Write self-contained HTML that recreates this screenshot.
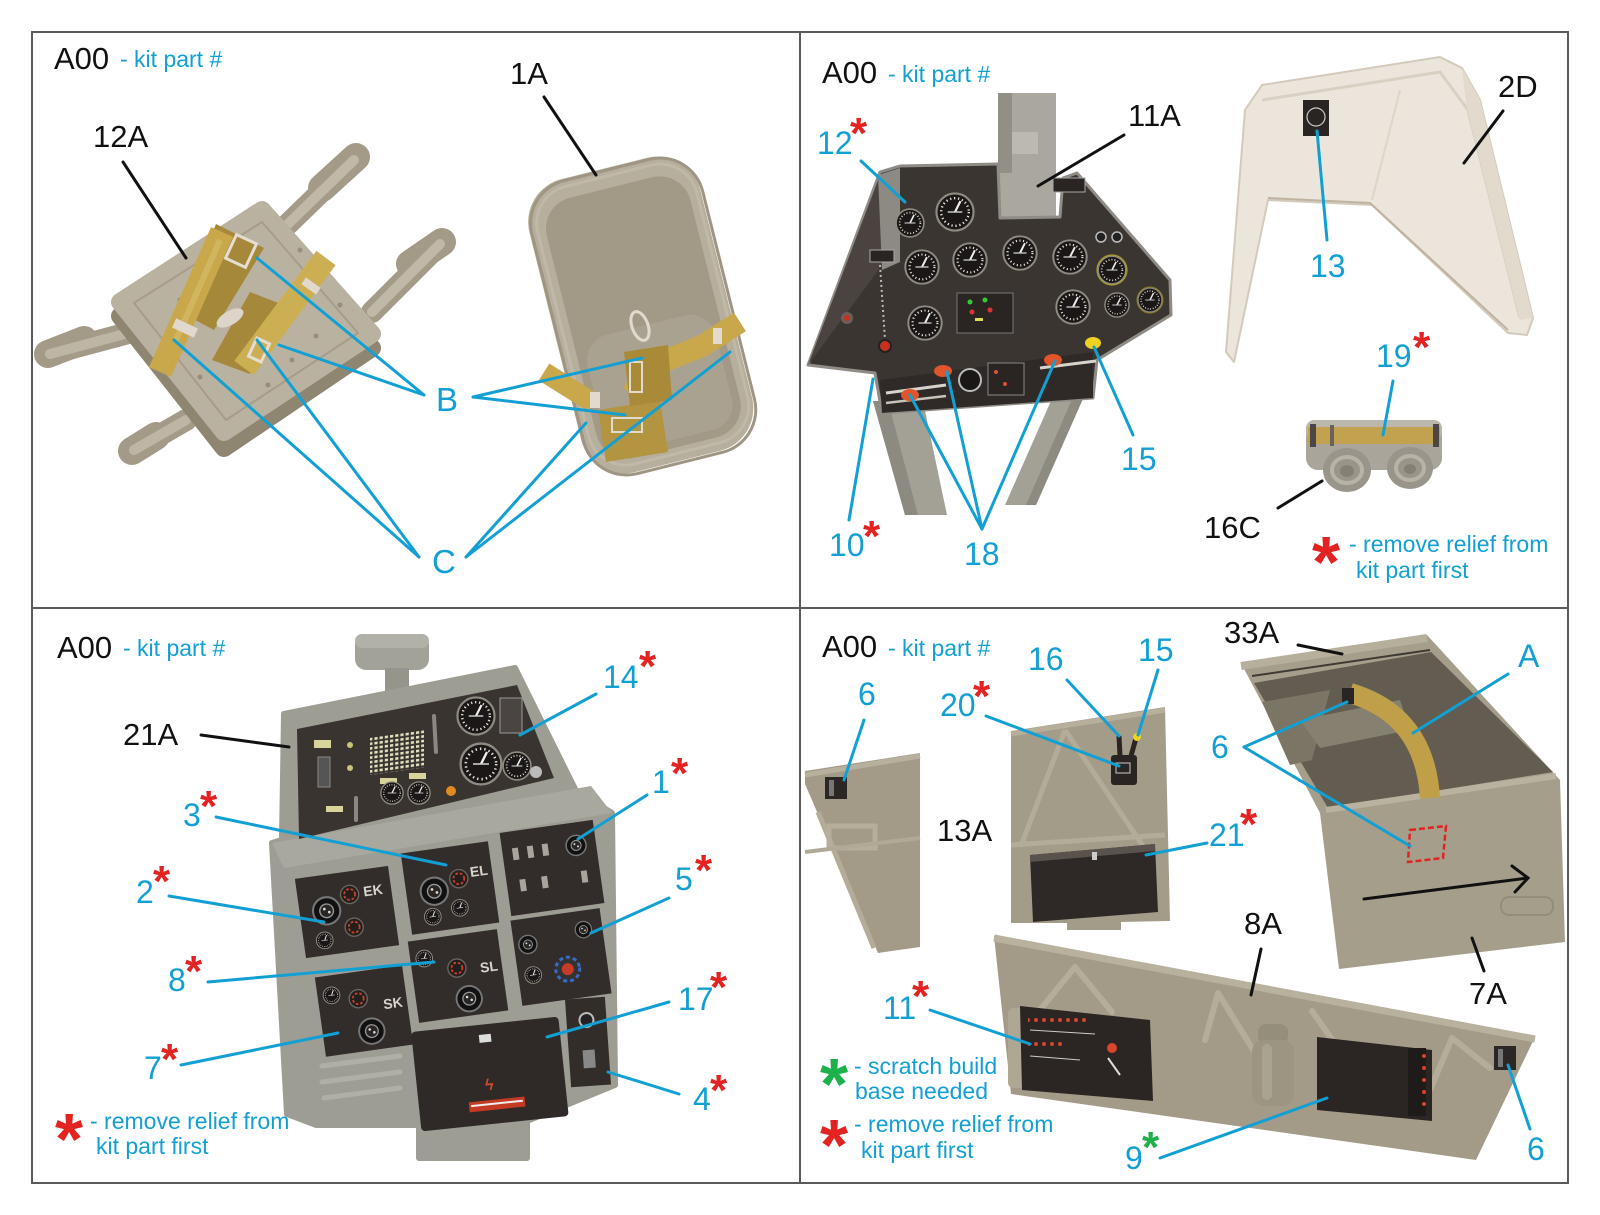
<!DOCTYPE html>
<html><head><meta charset="utf-8"><style>
html,body{margin:0;padding:0;background:#fff;}
svg{display:block;}
text{font-family:"Liberation Sans",Arial,sans-serif;}
.k{fill:#111;font-size:31px}
.b{fill:#12a0d4;font-size:32px}
.r{fill:#e32222;font-size:44px;font-weight:bold}
.g{fill:#1db14a;font-size:44px;font-weight:bold}
.rl{fill:#e32222;font-size:72px;font-weight:bold}
.gl{fill:#1db14a;font-size:72px;font-weight:bold}
.t{fill:#12a0d4;font-size:23px}
.bl{stroke:#12a0d4;stroke-width:3;fill:none;stroke-linecap:round}
.kl{stroke:#111;stroke-width:3;fill:none;stroke-linecap:round}
</style></head><body>
<svg width="1600" height="1215" viewBox="0 0 1600 1215" xmlns="http://www.w3.org/2000/svg">
<defs>
<symbol id="ga" viewBox="-11 -11 22 22">
<circle r="10.2" fill="#1a1716" stroke="#8f8a82" stroke-width="1.2"/>
<circle r="7.6" fill="none" stroke="#e4e0d8" stroke-width="1.3" stroke-dasharray="0.7 1.5"/>
<line x1="0" y1="0" x2="3" y2="-6" stroke="#eee" stroke-width="1.2"/>
<line x1="-4" y1="0" x2="4" y2="0" stroke="#ccc" stroke-width="0.8"/>
</symbol>
<symbol id="kn" viewBox="-11 -11 22 22">
<circle r="10" fill="#111" stroke="#777" stroke-width="1.5"/>
<circle r="5" fill="#2a2624" stroke="#999" stroke-width="1"/>
<circle cx="-1.5" cy="-1.5" r="1" fill="#ddd"/><circle cx="1.8" cy="1.2" r="1" fill="#ddd"/>
</symbol>
<symbol id="sg" viewBox="-11 -11 22 22">
<circle r="10" fill="#241f1d" stroke="#6c6660" stroke-width="1.5"/>
<circle r="6" fill="none" stroke="#c94030" stroke-width="2" stroke-dasharray="3 2"/>
</symbol>
<pattern id="led" width="5.2" height="4.6" patternUnits="userSpaceOnUse"><rect width="3.2" height="2.6" fill="#e4dfbd"/></pattern>
<pattern id="rdots" width="8" height="8" patternUnits="userSpaceOnUse"><circle cx="4" cy="4" r="2" fill="#d8452c"/></pattern>
</defs>

<rect width="1600" height="1215" fill="#fff"/>

<!-- ========== TOP LEFT ========== -->
<g stroke-linecap="round">
<line x1="288" y1="224" x2="354" y2="160" stroke="#a39b87" stroke-width="22"/>
<line x1="322" y1="188" x2="356" y2="157" stroke="#a39b87" stroke-width="28"/>
<line x1="288" y1="224" x2="354" y2="160" stroke="#c0b9a7" stroke-width="10"/>
<line x1="372" y1="312" x2="440" y2="244" stroke="#a39b87" stroke-width="22"/>
<line x1="410" y1="264" x2="442" y2="242" stroke="#a39b87" stroke-width="28"/>
<line x1="372" y1="312" x2="440" y2="244" stroke="#c0b9a7" stroke-width="10"/>
<line x1="132" y1="332" x2="50" y2="354" stroke="#a39b87" stroke-width="22"/>
<line x1="84" y1="340" x2="48" y2="354" stroke="#a39b87" stroke-width="28"/>
<line x1="132" y1="332" x2="50" y2="354" stroke="#bdb6a4" stroke-width="10"/>
<line x1="186" y1="420" x2="134" y2="450" stroke="#a39b87" stroke-width="22"/>
<line x1="156" y1="436" x2="132" y2="451" stroke="#a39b87" stroke-width="28"/>
<line x1="186" y1="420" x2="134" y2="450" stroke="#bdb6a4" stroke-width="10"/>
</g>
<polygon points="120,316 262,222 372,348 224,448" fill="#8f8672" stroke="#8f8672" stroke-width="18" stroke-linejoin="round"/>
<polygon points="120,302 262,210 372,334 224,432" fill="#bab2a0" stroke="#bab2a0" stroke-width="18" stroke-linejoin="round"/>
<polygon points="134,303 262,222 358,333 226,420" fill="none" stroke="#a69d89" stroke-width="2" stroke-linejoin="round"/>
<g fill="#978e7b">
<circle cx="180" cy="300" r="2.5"/><circle cx="200" cy="282" r="2.5"/><circle cx="300" cy="250" r="2.5"/><circle cx="316" cy="336" r="2.5"/><circle cx="292" cy="360" r="2.5"/><circle cx="268" cy="385" r="2.5"/><circle cx="200" cy="377" r="2.5"/><circle cx="340" cy="305" r="2.5"/>
</g>
<polygon points="216,224 264,248 214,330 180,312" fill="#a6883a"/>
<line x1="222" y1="232" x2="160" y2="372" stroke="#c9a84c" stroke-width="24"/>
<line x1="220" y1="240" x2="176" y2="340" stroke="#d8bf6c" stroke-width="6" opacity="0.6"/>
<polygon points="250,292 286,306 250,374 212,360" fill="#a6883a"/>
<line x1="326" y1="258" x2="244" y2="368" stroke="#ccae53" stroke-width="24"/>
<ellipse cx="230" cy="318" rx="15" ry="7" fill="#dcd5ca" transform="rotate(-30 230 318)"/>
<rect x="230" y="238" width="22" height="26" fill="none" stroke="#e3ddd2" stroke-width="3" transform="rotate(25 241 251)"/>
<rect x="173" y="323" width="24" height="10" fill="#e0d9cd" transform="rotate(25 185 328)"/>
<rect x="252" y="340" width="14" height="20" fill="none" stroke="#e3ddd2" stroke-width="3" transform="rotate(25 259 350)"/>
<rect x="302" y="282" width="18" height="8" fill="#e0d9cd" transform="rotate(35 311 286)"/>

<g transform="translate(641,316) rotate(-14)">
<rect x="-88" y="-152" width="176" height="302" rx="44" fill="#b6af9d"/>
<rect x="-86" y="-150" width="176" height="302" rx="44" fill="none" stroke="#9e9683" stroke-width="3"/>
<rect x="-80" y="-144" width="164" height="286" rx="38" fill="none" stroke="#c0b9a8" stroke-width="3"/>
<rect x="-72" y="-132" width="148" height="268" rx="32" fill="#a29a87"/>
<rect x="-64" y="10" width="132" height="118" rx="26" fill="#aaa290"/>
</g>
<polyline points="740,322 702,346 652,366 632,394" stroke="#c9a84c" stroke-width="22" fill="none" stroke-linejoin="round"/>
<line x1="544" y1="372" x2="592" y2="402" stroke="#c9a84c" stroke-width="20"/>
<polygon points="598,410 660,400 668,452 606,462" fill="#b39440"/>
<polygon points="624,352 668,345 672,400 630,406" fill="#a88a38"/>
<rect x="630" y="362" width="12" height="30" fill="none" stroke="#e0dacf" stroke-width="2"/>
<ellipse cx="640" cy="326" rx="8" ry="15" fill="none" stroke="#e0dacf" stroke-width="3" transform="rotate(-20 640 326)"/>
<rect x="612" y="418" width="30" height="14" fill="none" stroke="#e0dacf" stroke-width="2"/>
<rect x="590" y="392" width="10" height="16" fill="#e0dacf"/>
<rect x="713" y="328" width="9" height="16" fill="#e0dacf"/>

<!-- ========== TOP RIGHT ========== -->
<polygon points="873,401 923,401 947,515 905,515" fill="#a3a096"/>
<polygon points="873,401 888,401 918,515 905,515" fill="#8d8a81"/>
<polygon points="1066,367 1097,367 1036,505 1005,505" fill="#a3a096"/>
<polygon points="1086,367 1097,367 1036,505 1026,505" fill="#8d8a81"/>
<rect x="998" y="93" width="58" height="127" fill="#aaa79e"/>
<rect x="998" y="93" width="14" height="80" fill="#928f87"/>
<rect x="1012" y="132" width="26" height="22" fill="#bcb9b0"/>
<polygon points="880,172 900,166 998,164 1000,218 1060,217 1063,178 1077,173 1170,280 1171,315 1097,360 1093,398 882,413 875,373 808,365" fill="#3b3532" stroke="#8f8b85" stroke-width="3" stroke-linejoin="round"/>
<polygon points="808,365 880,175 900,170 880,268" fill="#4a4340"/>
<polygon points="878,175 900,168 900,262 882,270" fill="#8d8a84"/>
<use href="#ga" x="895" y="208" width="30" height="30"/>
<use href="#ga" x="935" y="192" width="40" height="40"/>
<use href="#ga" x="904" y="249" width="36" height="36"/>
<use href="#ga" x="952" y="242" width="36" height="36"/>
<use href="#ga" x="1002" y="235" width="36" height="36"/>
<use href="#ga" x="1052" y="239" width="36" height="36"/>
<use href="#ga" x="1097" y="255" width="30" height="30"/>
<circle cx="1112" cy="270" r="15" fill="none" stroke="#a79a2a" stroke-width="1.2"/>
<use href="#ga" x="907" y="305" width="36" height="36"/>
<use href="#ga" x="1055" y="289" width="36" height="36"/>
<use href="#ga" x="1104" y="292" width="26" height="26"/>
<use href="#ga" x="1137" y="287" width="26" height="26"/>
<circle cx="1150" cy="300" r="13" fill="none" stroke="#8a7a22" stroke-width="1"/>
<rect x="957" y="293" width="56" height="40" fill="#2a2523" stroke="#777" stroke-width="1"/>
<circle cx="970" cy="302" r="2.5" fill="#3c3"/><circle cx="985" cy="300" r="2.5" fill="#3c3"/><circle cx="972" cy="312" r="2.5" fill="#d33"/><circle cx="990" cy="310" r="2.5" fill="#d33"/>
<rect x="975" y="318" width="8" height="3" fill="#dd5"/>
<rect x="1053" y="178" width="32" height="14" fill="#2a2523" stroke="#aaa" stroke-width="1"/>
<circle cx="1101" cy="237" r="5" fill="#222" stroke="#bbb" stroke-width="1.5"/><circle cx="1117" cy="237" r="5" fill="#222" stroke="#bbb" stroke-width="1.5"/>
<rect x="870" y="250" width="24" height="12" fill="#2a2523" stroke="#aaa" stroke-width="1"/>
<line x1="880" y1="265" x2="885" y2="340" stroke="#bbb" stroke-width="2" stroke-dasharray="2 3"/>
<circle cx="885" cy="346" r="6" fill="#c83020" stroke="#222" stroke-width="2"/>
<circle cx="847" cy="318" r="6" fill="#6a5f5a"/><circle cx="847" cy="318" r="3" fill="#c83020"/>
<polygon points="880,380 1093,352 1093,398 882,413" fill="#2f2a27"/>
<line x1="886" y1="393" x2="946" y2="385" stroke="#d8d4cc" stroke-width="3"/>
<line x1="886" y1="403" x2="946" y2="396" stroke="#c8c4bc" stroke-width="2.5"/>
<line x1="1040" y1="368" x2="1096" y2="361" stroke="#d8d4cc" stroke-width="3"/>
<circle cx="970" cy="380" r="11" fill="#1a1716" stroke="#bbb" stroke-width="2"/>
<rect x="988" y="363" width="36" height="32" fill="#2a2523" stroke="#888" stroke-width="1"/>
<circle cx="996" cy="372" r="2" fill="#e05030"/><circle cx="1005" cy="384" r="2" fill="#e05030"/>
<ellipse cx="910" cy="395" rx="9" ry="6" fill="#e0552a"/>
<ellipse cx="943" cy="371" rx="9" ry="6" fill="#e0552a"/>
<ellipse cx="1053" cy="360" rx="9" ry="6" fill="#e0552a"/>
<ellipse cx="1093" cy="343" rx="8" ry="6" fill="#f0d020"/>

<polygon points="1245,110 1262,85 1440,57 1462,68 1480,100 1533,318 1527,335 1508,333 1372,205 1268,200 1234,362 1226,352" fill="#ebe5db" stroke="#d3cabb" stroke-width="2" stroke-linejoin="round"/>
<polyline points="1262,100 1440,72 1468,110 1520,318" fill="none" stroke="#d8d0c2" stroke-width="3"/>
<polyline points="1268,198 1370,203 1508,330" fill="none" stroke="#bfb3a0" stroke-width="2"/>
<line x1="1400" y1="90" x2="1372" y2="200" stroke="#ddd5c8" stroke-width="2"/>
<polygon points="1462,68 1480,100 1533,318 1520,320 1466,104" fill="#e2dacd"/>
<rect x="1303" y="100" width="26" height="36" fill="#2a2522"/>
<circle cx="1316" cy="117" r="9" fill="none" stroke="#ccc" stroke-width="1.2"/>

<rect x="1306" y="420" width="136" height="50" rx="12" fill="#aaa59a"/>
<rect x="1306" y="420" width="136" height="20" rx="8" fill="#bcb7ac"/>
<ellipse cx="1347" cy="470" rx="24" ry="22" fill="#9a958a"/>
<ellipse cx="1347" cy="470" rx="15" ry="13" fill="none" stroke="#b8b3a7" stroke-width="4"/>
<ellipse cx="1347" cy="471" rx="7" ry="6" fill="#858074"/>
<ellipse cx="1410" cy="468" rx="23" ry="21" fill="#9a958a"/>
<ellipse cx="1410" cy="468" rx="14" ry="12" fill="none" stroke="#b8b3a7" stroke-width="4"/>
<ellipse cx="1410" cy="469" rx="6" ry="5" fill="#858074"/>
<rect x="1308" y="427" width="132" height="17" fill="#c2a24e"/>
<rect x="1310" y="424" width="6" height="23" fill="#4d4744"/>
<rect x="1433" y="424" width="6" height="23" fill="#4d4744"/>
<rect x="1330" y="425" width="4" height="21" fill="#6b6259"/>

<!-- ========== BOTTOM LEFT ========== -->
<rect x="355" y="634" width="74" height="36" rx="11" fill="#a3a298"/>
<rect x="355" y="634" width="74" height="14" rx="7" fill="#b2b1a7"/>
<rect x="385" y="668" width="24" height="30" fill="#96958b"/>
<polygon points="284,714 515,668 576,791 612,813 615,1085 527,1121 527,1158 419,1158 419,1125 316,1125 287,1114 272,843 282,840" fill="#9e9d94" stroke="#9e9d94" stroke-width="6" stroke-linejoin="round"/>
<polygon points="272,843 591,786 612,813 284,868" fill="#a9a89f"/>
<polygon points="297,729 517,685 554,778 299,839" fill="#3a3431"/>
<rect x="370" y="735" width="54" height="38" fill="url(#led)" transform="skewY(-8) translate(0,54)"/>
<rect x="314" y="740" width="17" height="8" fill="#d9d49a"/>
<rect x="326" y="806" width="17" height="6" fill="#d9d49a"/>
<rect x="380" y="778" width="17" height="6" fill="#d9d49a"/>
<rect x="409" y="773" width="17" height="6" fill="#d9d49a"/>
<circle cx="350" cy="745" r="3" fill="#c9c477"/><circle cx="350" cy="768" r="3" fill="#c9c477"/>
<rect x="318" y="757" width="12" height="30" fill="#555" stroke="#888" stroke-width="1"/>
<line x1="434" y1="716" x2="436" y2="752" stroke="#8c8780" stroke-width="4" stroke-linecap="round"/>
<line x1="356" y1="798" x2="356" y2="820" stroke="#8c8780" stroke-width="4" stroke-linecap="round"/>
<use href="#ga" x="456" y="696" width="40" height="40"/>
<use href="#ga" x="459" y="742" width="44" height="44"/>
<use href="#ga" x="502" y="751" width="30" height="30"/>
<rect x="500" y="698" width="22" height="35" fill="#4b4542" stroke="#999" stroke-width="1"/>
<use href="#ga" x="380" y="781" width="24" height="24"/>
<use href="#ga" x="407" y="781" width="24" height="24"/>
<circle cx="451" cy="791" r="5" fill="#e08a20"/>
<circle cx="536" cy="772" r="6" fill="#bbb"/>
<g transform="rotate(-8 347 912)"><rect x="300" y="872" width="94" height="80" fill="#322c2a"/><use href="#kn" x="312" y="893" width="30" height="30"/><use href="#sg" x="342" y="885" width="20" height="20"/><use href="#sg" x="342" y="918" width="20" height="20"/><use href="#ga" x="312" y="928" width="18" height="18"/><text x="366" y="899" font-size="14" font-weight="bold" fill="#d8d4cc">EK</text></g>
<g transform="rotate(-8 450 888)"><rect x="406" y="847" width="88" height="82" fill="#322c2a"/><use href="#kn" x="419" y="874" width="30" height="30"/><use href="#sg" x="450" y="870" width="20" height="20"/><use href="#ga" x="420" y="905" width="18" height="18"/><use href="#ga" x="448" y="900" width="18" height="18"/><text x="472" y="880" font-size="14" font-weight="bold" fill="#d8d4cc">EL</text></g>
<g transform="rotate(-8 552 868)"><rect x="505" y="826" width="94" height="84" fill="#322c2a"/><g fill="#a9a49c"><rect x="515" y="843" width="6" height="12"/><rect x="530" y="843" width="6" height="12"/><rect x="545" y="843" width="6" height="12"/><rect x="518" y="875" width="6" height="12"/><rect x="540" y="875" width="6" height="12"/><rect x="580" y="875" width="6" height="12"/></g><use href="#kn" x="568" y="838" width="22" height="22"/></g>
<g transform="rotate(-8 364 1011)"><rect x="320" y="971" width="88" height="80" fill="#322c2a"/><use href="#kn" x="355" y="1018" width="28" height="28"/><use href="#sg" x="350" y="988" width="20" height="20"/><use href="#ga" x="325" y="982" width="18" height="18"/><text x="384" y="1012" font-size="14" font-weight="bold" fill="#d8d4cc">SK</text></g>
<g transform="rotate(-8 458 976)"><rect x="413" y="935" width="90" height="82" fill="#322c2a"/><use href="#kn" x="452" y="986" width="28" height="28"/><use href="#sg" x="448" y="958" width="20" height="20"/><use href="#ga" x="418" y="945" width="18" height="18"/><text x="481" y="976" font-size="14" font-weight="bold" fill="#d8d4cc">SL</text></g>
<g transform="rotate(-8 561 957)"><rect x="516" y="914" width="90" height="86" fill="#322c2a"/><use href="#kn" x="520" y="930" width="20" height="20"/><use href="#kn" x="578" y="924" width="18" height="18"/><circle cx="566" cy="970" r="12" fill="#333" stroke="#3a6ac8" stroke-width="3" stroke-dasharray="4 3"/><circle cx="566" cy="970" r="6" fill="#c83a2a"/><use href="#ga" x="522" y="962" width="18" height="18"/></g>
<g transform="rotate(-6 490 1075)"><rect x="416" y="1024" width="148" height="100" rx="4" fill="#2f2a28"/><rect x="483" y="1034" width="12" height="8" fill="#ddd"/><text x="484" y="1090" font-size="16" font-weight="bold" fill="#d24a2a">ϟ</text><rect x="466" y="1100" width="56" height="10" fill="#c43a22"/><rect x="468" y="1103" width="52" height="2" fill="#eee"/></g>
<g transform="rotate(-4 588 1042)"><rect x="568" y="998" width="40" height="88" fill="#332d2a"/><circle cx="588" cy="1020" r="7" fill="#222" stroke="#bbb" stroke-width="2"/><rect x="582" y="1050" width="12" height="18" fill="#888"/></g>
<g fill="none" stroke="#b0afa6" stroke-width="5" stroke-linecap="round">
<line x1="322" y1="1066" x2="400" y2="1056"/><line x1="322" y1="1082" x2="400" y2="1072"/><line x1="324" y1="1098" x2="400" y2="1088"/>
</g>

<!-- ========== BOTTOM RIGHT ========== -->
<polygon points="805,771 920,753 920,947 878,953 805,784" fill="#a39b88"/>
<line x1="805" y1="775" x2="920" y2="756" stroke="#b7b09d" stroke-width="5"/>
<line x1="818" y1="812" x2="874" y2="948" stroke="#b3ac99" stroke-width="5"/>
<rect x="829" y="826" width="46" height="22" fill="none" stroke="#b5ae9b" stroke-width="5"/>
<line x1="805" y1="852" x2="920" y2="838" stroke="#b0a996" stroke-width="4"/>
<rect x="825" y="777" width="22" height="22" fill="#2c2624"/><rect x="829" y="780" width="5" height="16" fill="#777"/>
<polygon points="1011,731 1165,707 1170,921 1121,922 1121,930 1067,930 1067,923 1011,923" fill="#a39c89"/>
<line x1="1011" y1="734" x2="1165" y2="710" stroke="#b6af9c" stroke-width="5"/>
<line x1="1065" y1="730" x2="1021" y2="846" stroke="#b3ac99" stroke-width="5"/>
<line x1="1065" y1="730" x2="1143" y2="846" stroke="#b3ac99" stroke-width="5"/>
<line x1="1011" y1="845" x2="1165" y2="835" stroke="#b3ac99" stroke-width="5"/>
<polygon points="1030,855 1155,844 1158,912 1033,922" fill="#2e2926"/>
<polygon points="1030,855 1155,844 1155,851 1030,862" fill="#5a524c"/>
<rect x="1092" y="852" width="5" height="8" fill="#ccc"/>
<rect x="1111" y="755" width="26" height="30" rx="3" fill="#2a2523"/>
<rect x="1116" y="763" width="14" height="10" fill="none" stroke="#ccc" stroke-width="1"/>
<line x1="1119" y1="736" x2="1120" y2="756" stroke="#2a2523" stroke-width="5"/>
<line x1="1136" y1="738" x2="1131" y2="756" stroke="#2a2523" stroke-width="5"/>
<circle cx="1137" cy="737" r="4" fill="#f0d020"/>
<polygon points="1241,663 1427,635 1560,780 1565,942 1339,969 1320,813" fill="#a59e8b"/>
<polygon points="1254,683 1431,652 1553,772 1328,808" fill="#625d50"/>
<polygon points="1262,702 1330,690 1312,760 1290,765" fill="#7b7566"/>
<polygon points="1300,720 1400,700 1410,730 1320,748" fill="#85806f"/>
<line x1="1241" y1="666" x2="1427" y2="638" stroke="#b6af9c" stroke-width="8"/>
<line x1="1252" y1="676" x2="1430" y2="650" stroke="#3f3b34" stroke-width="2"/>
<line x1="1326" y1="810" x2="1556" y2="776" stroke="#b9b29f" stroke-width="6"/>
<path d="M1350,693 Q1425,715 1430,798" fill="none" stroke="#bfa048" stroke-width="20"/>
<rect x="1342" y="688" width="12" height="16" fill="#2a2523"/>
<rect x="1501" y="897" width="52" height="18" rx="8" fill="none" stroke="#948d7a" stroke-width="2"/>
<polygon points="1410,830 1446,826 1443,858 1408,862" fill="none" stroke="#e32222" stroke-width="2.5" stroke-dasharray="6 3"/>
<polygon points="994,936 1535,1037 1476,1160 1011,1094" fill="#a39b87"/>
<line x1="994" y1="938" x2="1535" y2="1039" stroke="#b8b19e" stroke-width="7"/>
<g stroke="#b4ad9a" stroke-width="6" stroke-linecap="round">
<line x1="1075" y1="967" x2="1040" y2="1010"/><line x1="1075" y1="967" x2="1112" y2="1012"/>
<line x1="1218" y1="993" x2="1275" y2="1085"/><line x1="1218" y1="993" x2="1205" y2="1040"/>
<line x1="1312" y1="1011" x2="1338" y2="1048"/>
<line x1="1452" y1="1038" x2="1490" y2="1068"/><line x1="1452" y1="1038" x2="1430" y2="1090"/>
</g>
<rect x="1008" y="1008" width="22" height="80" rx="5" fill="#aea794"/>
<polygon points="1020,1006 1150,1020 1153,1101 1022,1090" fill="#2b2523"/>
<rect x="1028" y="1014" width="60" height="10" fill="url(#rdots)"/>
<rect x="1028" y="1040" width="34" height="10" fill="url(#rdots)"/>
<g stroke="#ccc" stroke-width="1"><line x1="1030" y1="1030" x2="1095" y2="1034"/><line x1="1030" y1="1056" x2="1080" y2="1060"/></g>
<circle cx="1112" cy="1048" r="5" fill="#d8452c"/><line x1="1108" y1="1058" x2="1120" y2="1075" stroke="#ddd" stroke-width="2"/>
<rect x="1258" y="1024" width="30" height="20" rx="8" fill="#958e7b"/>
<rect x="1252" y="1040" width="42" height="66" rx="12" fill="#9c9582"/>
<rect x="1262" y="1044" width="10" height="56" rx="5" fill="#aaa390"/>
<polygon points="1317,1037 1432,1050 1432,1121 1317,1110" fill="#2b2523"/>
<rect x="1408" y="1048" width="18" height="68" fill="#1f1b1a"/>
<g fill="#d8452c"><circle cx="1424" cy="1056" r="2"/><circle cx="1424" cy="1068" r="2"/><circle cx="1424" cy="1080" r="2"/><circle cx="1424" cy="1092" r="2"/><circle cx="1424" cy="1104" r="2"/></g>
<rect x="1494" y="1046" width="22" height="24" fill="#2c2624"/><rect x="1498" y="1049" width="5" height="18" fill="#777"/>

<!-- ========== FRAME ========== -->
<rect x="32" y="32" width="1536" height="1151" fill="none" stroke="#5a5a5a" stroke-width="2"/>
<line x1="800" y1="32" x2="800" y2="1183" stroke="#5a5a5a" stroke-width="2"/>
<line x1="32" y1="608" x2="1568" y2="608" stroke="#5a5a5a" stroke-width="2"/>

<!-- ========== LINES ========== -->
<line class="kl" x1="123" y1="162" x2="186" y2="258"/>
<line class="kl" x1="544" y1="97" x2="596" y2="175"/>
<line class="bl" x1="424" y1="395" x2="257" y2="258"/>
<line class="bl" x1="424" y1="395" x2="279" y2="345"/>
<line class="bl" x1="473" y1="397" x2="642" y2="358"/>
<line class="bl" x1="473" y1="397" x2="625" y2="415"/>
<line class="bl" x1="419" y1="557" x2="174" y2="340"/>
<line class="bl" x1="419" y1="557" x2="257" y2="340"/>
<line class="bl" x1="466" y1="557" x2="586" y2="423"/>
<line class="bl" x1="466" y1="557" x2="730" y2="352"/>

<line class="bl" x1="861" y1="161" x2="905" y2="202"/>
<line class="kl" x1="1124" y1="135" x2="1038" y2="186"/>
<line class="kl" x1="1503" y1="111" x2="1464" y2="163"/>
<line class="bl" x1="1327" y1="240" x2="1317" y2="131"/>
<line class="bl" x1="1393" y1="381" x2="1383" y2="435"/>
<line class="kl" x1="1278" y1="508" x2="1322" y2="481"/>
<line class="bl" x1="1133" y1="435" x2="1094" y2="347"/>
<line class="bl" x1="849" y1="520" x2="873" y2="379"/>
<line class="bl" x1="982" y1="529" x2="910" y2="395"/>
<line class="bl" x1="982" y1="529" x2="947" y2="372"/>
<line class="bl" x1="982" y1="529" x2="1055" y2="361"/>

<line class="kl" x1="201" y1="735" x2="289" y2="747"/>
<line class="bl" x1="596" y1="694" x2="520" y2="735"/>
<line class="bl" x1="647" y1="795" x2="578" y2="839"/>
<line class="bl" x1="216" y1="817" x2="446" y2="865"/>
<line class="bl" x1="169" y1="896" x2="324" y2="922"/>
<line class="bl" x1="669" y1="898" x2="591" y2="933"/>
<line class="bl" x1="208" y1="982" x2="434" y2="962"/>
<line class="bl" x1="669" y1="1002" x2="547" y2="1037"/>
<line class="bl" x1="181" y1="1065" x2="338" y2="1033"/>
<line class="bl" x1="679" y1="1094" x2="608" y2="1072"/>

<line class="bl" x1="864" y1="720" x2="844" y2="780"/>
<line class="bl" x1="1067" y1="680" x2="1119" y2="736"/>
<line class="bl" x1="1158" y1="670" x2="1138" y2="735"/>
<line class="bl" x1="986" y1="716" x2="1119" y2="766"/>
<line class="bl" x1="1207" y1="843" x2="1146" y2="855"/>
<line class="kl" x1="1298" y1="645" x2="1342" y2="654"/>
<line class="bl" x1="1508" y1="674" x2="1413" y2="733"/>
<line class="bl" x1="1244" y1="747" x2="1347" y2="702"/>
<line class="bl" x1="1244" y1="747" x2="1410" y2="846"/>
<line class="kl" x1="1261" y1="949" x2="1251" y2="995"/>
<line class="kl" x1="1472" y1="938" x2="1484" y2="971"/>
<line class="bl" x1="930" y1="1010" x2="1030" y2="1044"/>
<line class="bl" x1="1160" y1="1158" x2="1327" y2="1098"/>
<line class="bl" x1="1530" y1="1129" x2="1508" y2="1065"/>
<line class="kl" x1="1364" y1="899" x2="1528" y2="878"/>
<polyline class="kl" points="1512,866 1528,878 1515,892"/>

<!-- ========== TEXT ========== -->
<text class="k" x="54" y="69">A00</text><text class="t" x="120" y="67">- kit part #</text>
<text class="k" x="822" y="83">A00</text><text class="t" x="888" y="82">- kit part #</text>
<text class="k" x="57" y="658">A00</text><text class="t" x="123" y="656">- kit part #</text>
<text class="k" x="822" y="657">A00</text><text class="t" x="888" y="656">- kit part #</text>

<text class="k" x="93" y="147">12A</text>
<text class="k" x="510" y="84">1A</text>
<text class="b" x="436" y="411" style="font-size:33px">B</text>
<text class="b" x="432" y="573" style="font-size:33px">C</text>

<text class="k" x="1128" y="126">11A</text>
<text class="k" x="1498" y="97">2D</text>
<text class="k" x="1204" y="538">16C</text>
<text class="b" x="817" y="154">12</text><text class="r" x="850" y="148">*</text>
<text class="b" x="1310" y="277">13</text>
<text class="b" x="1376" y="367">19</text><text class="r" x="1413" y="362">*</text>
<text class="b" x="1121" y="470">15</text>
<text class="b" x="829" y="556">10</text><text class="r" x="863" y="551">*</text>
<text class="b" x="964" y="565">18</text>
<text class="rl" x="1312" y="587">*</text>
<text class="t" x="1349" y="552">- remove relief from</text>
<text class="t" x="1356" y="578">kit part first</text>

<text class="k" x="123" y="745">21A</text>
<text class="b" x="603" y="688">14</text><text class="r" x="639" y="681">*</text>
<text class="b" x="652" y="793">1</text><text class="r" x="671" y="788">*</text>
<text class="b" x="183" y="826">3</text><text class="r" x="200" y="821">*</text>
<text class="b" x="136" y="903">2</text><text class="r" x="153" y="896">*</text>
<text class="b" x="675" y="890">5</text><text class="r" x="695" y="885">*</text>
<text class="b" x="168" y="991">8</text><text class="r" x="185" y="986">*</text>
<text class="b" x="678" y="1010">17</text><text class="r" x="710" y="1002">*</text>
<text class="b" x="144" y="1079">7</text><text class="r" x="161" y="1074">*</text>
<text class="b" x="693" y="1110">4</text><text class="r" x="710" y="1105">*</text>
<text class="rl" x="55" y="1164">*</text>
<text class="t" x="90" y="1129">- remove relief from</text>
<text class="t" x="96" y="1154">kit part first</text>

<text class="b" x="858" y="705">6</text>
<text class="b" x="1028" y="670">16</text>
<text class="b" x="1138" y="661">15</text>
<text class="b" x="940" y="716">20</text><text class="r" x="973" y="711">*</text>
<text class="k" x="937" y="841">13A</text>
<text class="b" x="1209" y="846">21</text><text class="r" x="1240" y="839">*</text>
<text class="k" x="1224" y="643">33A</text>
<text class="b" x="1518" y="667">A</text>
<text class="b" x="1211" y="758">6</text>
<text class="k" x="1244" y="934">8A</text>
<text class="k" x="1469" y="1004">7A</text>
<text class="b" x="883" y="1019">11</text><text class="r" x="912" y="1011">*</text>
<text class="b" x="1125" y="1169">9</text><text class="g" x="1142" y="1162">*</text>
<text class="b" x="1527" y="1160">6</text>
<text class="gl" x="820" y="1109">*</text>
<text class="t" x="854" y="1074">- scratch build</text>
<text class="t" x="855" y="1099">base needed</text>
<text class="rl" x="820" y="1170">*</text>
<text class="t" x="854" y="1132">- remove relief from</text>
<text class="t" x="861" y="1158">kit part first</text>
</svg>
</body></html>
